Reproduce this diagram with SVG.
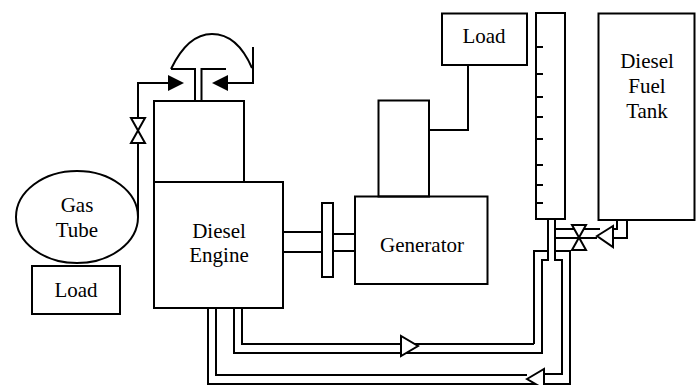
<svg xmlns="http://www.w3.org/2000/svg" width="700" height="385" viewBox="0 0 700 385">
<style>
.s{fill:none;stroke:#000;stroke-width:2}
.w{fill:#fff;stroke:#000;stroke-width:2}
.a{fill:#000;stroke:none}
text{font-family:"Liberation Serif","Times New Roman",serif;font-size:21px;fill:#000;text-anchor:middle}
</style>
<rect width="700" height="385" fill="#fff"/>
<g id="connectors">
<path class="s" d="M138 217V83H168"/>
<path class="s" d="M171 69C183 44 198 34 212 34C228 34 242 45 252 68"/>
<path class="s" d="M253 47V83H227"/>
<path class="s" d="M171 69H195V101M201.500 101V69H226"/>
<path class="s" d="M283 232H322M283 252H322M333 234H355M333 251H355"/>
<path class="s" d="M429 130H468V65"/>
<path class="s" d="M548 219V260H542V353H234V308M555 219V229H600M555 238H597M555 219V260H562V374H544M555 251H570V384H208V308M534 344V251H548M534 344H242V308M216 308V375H527"/>
<path class="s" d="M617 220V229H613M627 220V238H613"/>
</g>
<g id="gas-tube"><ellipse class="s" cx="77" cy="217" rx="61" ry="46"/><text x="77" y="212">Gas</text><text x="77" y="237">Tube</text></g>
<g id="load-left"><rect class="w" x="32" y="266" width="88" height="48"/><text x="76" y="297">Load</text></g>
<g id="gas-valve"><path class="w" d="M131 118H145L131 143H145Z"/></g>
<polygon class="a" points="168,75 168,91 184,83"/>
<polygon class="a" points="228,75 228,91 212,83"/>
<g id="cylinder"><rect class="s" x="154" y="101" width="90" height="81"/></g>
<g id="diesel-engine"><rect class="s" x="154" y="182" width="129" height="126"/><text x="219" y="238">Diesel</text><text x="219" y="262">Engine</text></g>
<g id="flywheel"><rect class="w" x="322" y="203" width="11" height="74"/></g>
<g id="generator-top"><rect class="s" x="378.500" y="100.500" width="50.500" height="96"/></g>
<g id="generator"><rect class="s" x="355" y="196.500" width="132.500" height="87.500"/><text x="422" y="252">Generator</text></g>
<g id="load-top"><rect class="w" x="442" y="13.500" width="85" height="51.500"/><text x="484" y="43">Load</text></g>
<g id="gauge"><rect class="s" x="536" y="13" width="29" height="206"/><path class="s" d="M536 47H543M536 74H543M536 97H543M536 117H543M536 139H543M536 165H543M536 185H543M536 203H543"/></g>
<g id="fuel-tank"><rect class="s" x="598.500" y="13.500" width="96" height="206.500"/><text x="647" y="68">Diesel</text><text x="647" y="93">Fuel</text><text x="647" y="118">Tank</text></g>
<g id="fuel-valve"><path class="w" d="M572 225H586L572 250H586Z"/></g>
<polygon class="w" points="597,236 613,226 613,247"/>
<polygon class="w" points="401,336 401,356 418,346"/>
<polygon class="w" points="527,379 544,369 544,389"/>
</svg>
